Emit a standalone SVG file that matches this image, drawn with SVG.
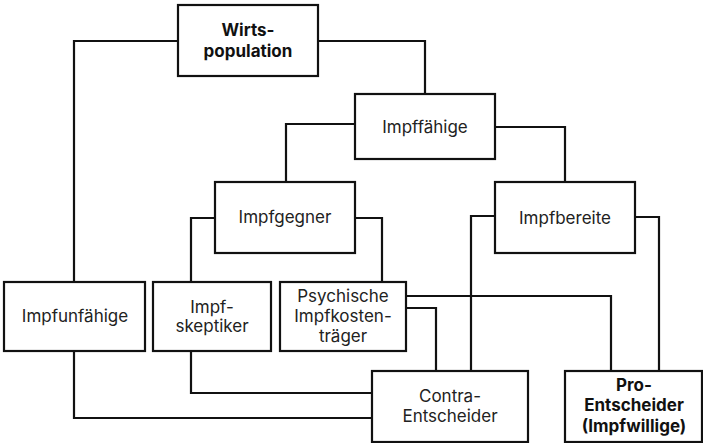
<svg xmlns="http://www.w3.org/2000/svg" width="703" height="443" viewBox="0 0 703 443">
<style>
.box{fill:#fff;stroke:#111;stroke-width:2.2}
.c{fill:none;stroke:#111;stroke-width:2.2}
text{font-family:Inter,"Liberation Sans",sans-serif;font-size:17px;fill:#222;text-anchor:middle}
.b{font-weight:bold;fill:#111}
</style>
<rect width="703" height="443" fill="#fff"/>
<g id="connectors">
<path class="c" d="M178,41 H74 V282"/>
<path class="c" d="M318,41 H425 V94"/>
<path class="c" d="M355,124 H286 V182"/>
<path class="c" d="M495,127 H565 V182"/>
<path class="c" d="M215,218 H191 V282"/>
<path class="c" d="M355,218 H382 V282"/>
<path class="c" d="M495,216 H471 V371"/>
<path class="c" d="M635,217 H659 V371"/>
<path class="c" d="M406,296 H611 V371"/>
<path class="c" d="M406,308 H436 V371"/>
<path class="c" d="M191,351 V393 H372"/>
<path class="c" d="M74,351 V418 H372"/>
</g>
<g id="wirts"><rect class="box" x="178" y="5" width="140" height="71"/><text class="b" x="248" y="36">Wirts-</text><text class="b" x="248" y="57">population</text></g>
<g id="impffaehige"><rect class="box" x="355" y="94" width="140" height="65"/><text x="425" y="133">Impffähige</text></g>
<g id="impfgegner"><rect class="box" x="215" y="182" width="140" height="71"/><text x="285" y="223">Impfgegner</text></g>
<g id="impfbereite"><rect class="box" x="495" y="182" width="140" height="71"/><text x="565" y="224">Impfbereite</text></g>
<g id="impfunfaehige"><rect class="box" x="4" y="282" width="141" height="69"/><text x="75" y="322">Impfunfähige</text></g>
<g id="impfskeptiker"><rect class="box" x="153" y="282" width="118" height="69"/><text x="212" y="313">Impf-</text><text x="212" y="332">skeptiker</text></g>
<g id="psychische"><rect class="box" x="280" y="282" width="126" height="69"/><text x="343" y="302">Psychische</text><text x="343" y="322">Impfkosten-</text><text x="343" y="342">träger</text></g>
<g id="contra"><rect class="box" x="372" y="371" width="156" height="71"/><text x="450" y="402">Contra-</text><text x="450" y="422">Entscheider</text></g>
<g id="pro"><rect class="box" x="565" y="371" width="137" height="71"/><text class="b" x="634" y="391">Pro-</text><text class="b" x="634" y="411">Entscheider</text><text class="b" x="634" y="432">(Impfwillige)</text></g>
</svg>
